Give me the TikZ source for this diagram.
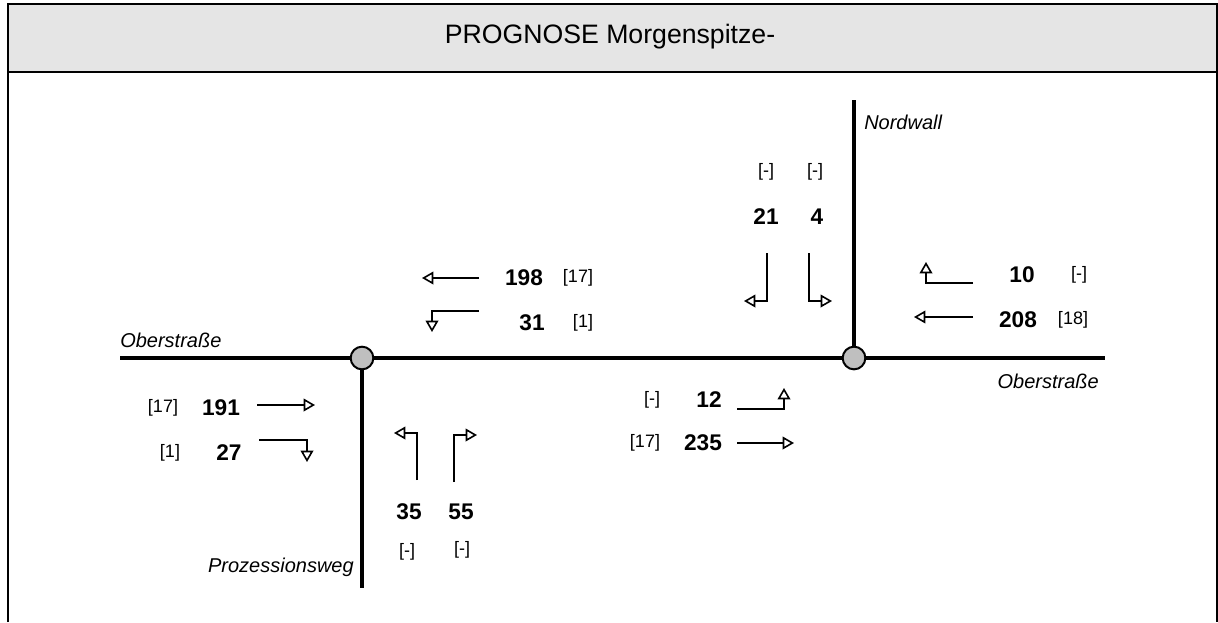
\documentclass[tikz,border=0pt]{standalone}
\usepackage{fontspec}
\setmainfont{Liberation Sans}
\usetikzlibrary{arrows.meta}
\begin{document}
\begin{tikzpicture}[x=0.75pt,y=0.75pt,
	road/.style={line width=3pt},
	flow/.style={line width=1.25pt,-{Triangle[open,length=8.5pt,width=9.5pt,line width=1.2pt]}},
	knot/.style={circle,draw,line width=1.5pt,fill=black!25,minimum size=17pt},
	num/.style={font=\fontsize{17}{20}\selectfont\bfseries},
	share/.style={font=\fontsize{13.5}{16}\selectfont},
	street/.style={font=\fontsize{15}{18}\selectfont\itshape}]
	\tikzstyle{every node}+=[inner sep=0pt]
	\useasboundingbox (0,0) rectangle (1218,-622);
	% frame and header
	\fill [black!10] (8,-4) rectangle (1217,-72);
	\draw [line width=1.9pt] (8,-622) -- (8,-4) -- (1217,-4) -- (1217,-622);
	\draw [line width=1.9pt] (8,-72) -- (1217,-72);
	\draw (610,-37) node[font=\fontsize{20}{24}\selectfont] (title) {PROGNOSE Morgenspitze-};
	% roads
	\node [knot] (kWest) at (362,-358) {};
	\node [knot] (kEast) at (854,-358) {};
	\coordinate (oWest) at (120,-358);
	\coordinate (oEast) at (1105,-358);
	\coordinate (nord) at (854,-100);
	\coordinate (proz) at (362,-588);
	\draw [road] (oWest) -- (kWest);
	\draw [road] (kWest) -- (kEast);
	\draw [road] (kEast) -- (oEast);
	\draw [road] (kEast) -- (nord);
	\draw [road] (kWest) -- (proz);
	\draw (120,-340) node[street,anchor=west] (nOberW) {Oberstraße};
	\draw (1099,-381) node[street,anchor=east] (nOberE) {Oberstraße};
	\draw (864,-122) node[street,anchor=west] (nNord) {Nordwall};
	\draw (354,-567) node[street,anchor=east] (nProz) {Prozessionsweg};
	% Oberstrasse west
	\draw (163,-408) node[share] (sW1) {[17]};
	\draw (221,-408) node[num] (qW1) {191};
	\draw [flow] (257,-405) -- (315,-405);
	\draw (170,-453) node[share] (sW2) {[1]};
	\draw (229,-453) node[num] (qW2) {27};
	\draw [flow] (259,-440) -| (307,-462);
	% Oberstrasse middle, westbound
	\draw (524,-278) node[num] (qM1) {198};
	\draw (578,-278) node[share] (sM1) {[17]};
	\draw [flow] (479,-278) -- (422,-278);
	\draw (532,-323) node[num] (qM2) {31};
	\draw (583,-323) node[share] (sM2) {[1]};
	\draw [flow] (479,-311) -| (432,-332);
	% Oberstrasse middle, eastbound
	\draw (652,-400) node[share] (sM3) {[-]};
	\draw (709,-400) node[num] (qM3) {12};
	\draw [flow] (737,-409) -| (784,-388);
	\draw (645,-443) node[share] (sM4) {[17]};
	\draw (703,-443) node[num] (qM4) {235};
	\draw [flow] (737,-443) -- (794,-443);
	% Nordwall
	\draw (766,-172) node[share] (sN1) {[-]};
	\draw (815,-172) node[share] (sN2) {[-]};
	\draw (766,-217) node[num] (qN1) {21};
	\draw (817,-217) node[num] (qN2) {4};
	\draw [flow] (767,-253) |- (744,-301);
	\draw [flow] (809,-253) |- (832,-301);
	% Oberstrasse east
	\draw (1022,-275) node[num] (qE1) {10};
	\draw (1079,-275) node[share] (sE1) {[-]};
	\draw [flow] (973,-283) -| (926,-262);
	\draw (1018,-320) node[num] (qE2) {208};
	\draw (1073,-320) node[share] (sE2) {[18]};
	\draw [flow] (973,-317) -- (914,-317);
	% Prozessionsweg
	\draw [flow] (417,-480) |- (394,-433);
	\draw [flow] (454,-482) |- (477,-435);
	\draw (409,-512) node[num] (qS1) {35};
	\draw (461,-512) node[num] (qS2) {55};
	\draw (407,-552) node[share] (sS1) {[-]};
	\draw (462,-550) node[share] (sS2) {[-]};
\end{tikzpicture}
\end{document}
